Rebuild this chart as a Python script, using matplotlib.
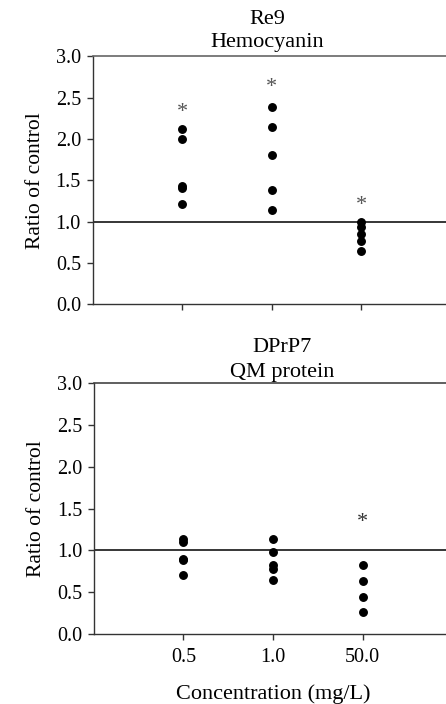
import matplotlib
matplotlib.use("Agg")
import matplotlib.pyplot as plt

plt.rcParams["font.family"] = ["Liberation Serif", "DejaVu Serif"]

# Concentration groups shared by both panels
categories = ["0.5", "1.0", "50.0"]
yticks = [0.0, 0.5, 1.0, 1.5, 2.0, 2.5, 3.0]

# Re9 / Hemocyanin: ratio of control per replicate
hemo_05 = [2.12, 2.00, 1.43, 1.41, 1.21]
hemo_10 = [2.39, 2.15, 1.81, 1.38, 1.14]
hemo_50 = [0.99, 0.94, 0.85, 0.76, 0.65]
hemo_star = [2.32, 2.62, 1.19]

# DPrP7 / QM protein: ratio of control per replicate
qm_05 = [1.14, 1.10, 0.89, 0.88, 0.70]
qm_10 = [1.14, 0.98, 0.82, 0.78, 0.64]
qm_50 = [0.82, 0.63, 0.44, 0.26]
qm_star = [None, None, 1.33]

W, H = 446, 704
fig = plt.figure(figsize=(W / 100, H / 100), dpi=100)


def panel(rect, groups, stars, star_color, spine_top_color):
    ax = fig.add_axes(rect)
    for i, vals in enumerate(groups, start=1):
        ax.plot([i] * len(vals), vals, "o", color="black", ms=5.4,
                mec="black", zorder=3, clip_on=False)
    for i, s in enumerate(stars, start=1):
        if s is not None:
            ax.text(i, s, "*", ha="center", va="center", fontsize=16,
                    color=star_color)
    ax.axhline(1.0, color="black", lw=1.1, zorder=2)
    ax.set_xlim(0, 4)
    ax.set_ylim(0, 3.0)
    ax.set_yticks(yticks)
    ax.set_yticklabels([f"{t:.1f}" for t in yticks], fontsize=14.5)
    ax.set_xticks([1, 2, 3])
    ax.tick_params(axis="both", direction="out", length=4.5, width=1,
                   color="#333333", pad=4)
    ax.set_ylabel("Ratio of control", fontsize=15.5, labelpad=8)
    for side in ("left", "bottom"):
        ax.spines[side].set_color("#333333")
        ax.spines[side].set_linewidth(1)
    ax.spines["top"].set_color(spine_top_color)
    ax.spines["top"].set_linewidth(1.2)
    ax.spines["right"].set_visible(False)
    return ax


top = panel([92.7 / W, 1 - 304.3 / H, 358 / W, 248 / H],
            [hemo_05, hemo_10, hemo_50], hemo_star, "#555555", "#666666")
top.set_xticklabels([])

bot = panel([93.8 / W, 1 - 633.7 / H, 358.6 / W, 250.4 / H],
            [qm_05, qm_10, qm_50], qm_star, "#333333", "#444444")
bot.set_xticklabels(categories, fontsize=14.5)
bot.tick_params(axis="x", pad=6)
bot.set_xlabel("Concentration (mg/L)", fontsize=16, labelpad=12)

fig.text(267 / W, 1 - 19 / H, "Re9", ha="center", va="center", fontsize=16)
fig.text(267 / W, 1 - 43 / H, "Hemocyanin", ha="center", va="center", fontsize=16)
fig.text(282 / W, 1 - 347 / H, "DPrP7", ha="center", va="center", fontsize=16)
fig.text(282 / W, 1 - 372 / H, "QM protein", ha="center", va="center", fontsize=16)

fig.savefig("out.png", dpi=100)
